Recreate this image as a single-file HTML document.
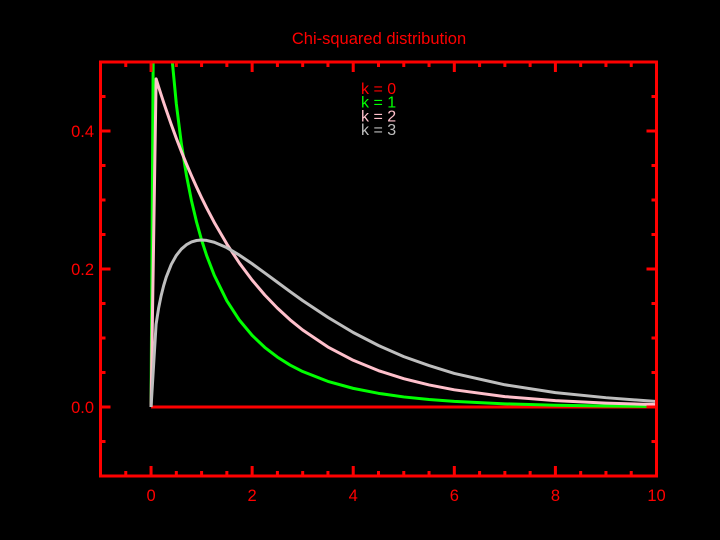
<!DOCTYPE html>
<html><head><meta charset="utf-8"><style>
html,body{margin:0;padding:0;background:#000;}
svg{display:block;font-family:"Liberation Sans",sans-serif;}
</style></head><body>
<svg id="chart" width="720" height="540" xmlns="http://www.w3.org/2000/svg">
<rect width="720" height="540" fill="#000"/>
<text x="379" y="44" fill="#ff0000" font-size="16.5" text-anchor="middle">Chi-squared distribution</text>
<defs><clipPath id="clip"><rect x="100" y="62" width="557" height="414"/></clipPath></defs>
<g id="series" clip-path="url(#clip)"></g>
<g id="axes"></g>
<g id="legend"></g>
</svg>
<script>
const xs = [0,0.1,0.15,0.2,0.25,0.3,0.4,0.5,0.6,0.7,0.8,0.9,1,1.1,1.25,1.5,1.75,2,2.25,2.5,2.75,3,3.5,4,4.5,5,5.5,6,7,8,9,10];
const k0 = [0,0,0,0,0,0,0,0,0,0,0,0,0,0,0,0,0,0,0,0,0,0,0,0,0,0,0,0,0,0,0,0];
const k1 = [0,1.2000,0.9557,0.8072,0.7041,0.6269,0.5164,0.4394,0.3815,0.3360,0.2990,0.2681,0.2420,0.2195,0.1910,0.1539,0.1257,0.1038,0.0864,0.0723,0.0608,0.0514,0.0371,0.0270,0.0198,0.0146,0.0109,0.0081,0.0046,0.0026,0.0015,0.0008];
const k2 = [0,0.4756,0.4639,0.4524,0.4412,0.4304,0.4094,0.3894,0.3704,0.3523,0.3352,0.3188,0.3033,0.2885,0.2676,0.2362,0.2084,0.1839,0.1623,0.1433,0.1264,0.1116,0.0869,0.0677,0.0527,0.0410,0.0320,0.0249,0.0151,0.0092,0.0056,0.0034];
const k3 = [0,0.1200,0.1434,0.1614,0.1760,0.1881,0.2066,0.2197,0.2289,0.2352,0.2392,0.2413,0.2420,0.2414,0.2388,0.2309,0.2200,0.2076,0.1943,0.1808,0.1673,0.1542,0.1299,0.1080,0.0891,0.0730,0.0600,0.0486,0.0322,0.0208,0.0135,0.0080];
const xTicks = [0,2,4,6,8,10];
const yTicks = [0.0,0.2,0.4];
const legendLabels = ["k = 0","k = 1","k = 2","k = 3"];

const NS="http://www.w3.org/2000/svg";
const X0=100.5,X1=656.5,XMIN=-1,XMAX=10;
const Y0=476,Y1=62,YMIN=-0.1,YMAX=0.5;
const sx=v=>X0+(v-XMIN)/(XMAX-XMIN)*(X1-X0);
const sy=v=>Y0-(v-YMIN)/(YMAX-YMIN)*(Y0-Y1);
function mk(tag,attrs,parent){const e=document.createElementNS(NS,tag);for(const k in attrs)e.setAttribute(k,attrs[k]);parent.appendChild(e);return e;}

const series=[{d:k0,c:"#ff0000",n:"k0"},{d:k1,c:"#00ff00",n:"k1"},{d:k2,c:"#ffc0cb",n:"k2"},{d:k3,c:"#bebebe",n:"k3"}];
const sg=document.getElementById('series');
series.forEach(s=>{
  const p=mk('polyline',{points:xs.map((x,i)=>sx(x).toFixed(2)+","+sy(s.d[i]).toFixed(2)).join(" "),fill:"none",stroke:s.c,"stroke-width":3,"stroke-linejoin":"round"},sg);
  
  
});

const ag=document.getElementById('axes');
const red="#ff0000";
const frame=mk('rect',{x:X0,y:Y1,width:X1-X0,height:Y0-Y1,fill:"none",stroke:red,"stroke-width":3},ag);


for(let v=-1;v<=10.001;v+=0.5){
  const major=Math.abs(v/2-Math.round(v/2))<1e-6;
  const L=major?10:5;
  mk('line',{x1:sx(v),y1:Y0,x2:sx(v),y2:Y0-L,stroke:red,"stroke-width":3},ag);
  mk('line',{x1:sx(v),y1:Y1,x2:sx(v),y2:Y1+L,stroke:red,"stroke-width":3},ag);
}
for(let i=-2;i<=10;i++){
  const v=i*0.05;const major=(i%4===0);
  const L=major?10:5;
  mk('line',{x1:X0,y1:sy(v),x2:X0+L,y2:sy(v),stroke:red,"stroke-width":3},ag);
  mk('line',{x1:X1,y1:sy(v),x2:X1-L,y2:sy(v),stroke:red,"stroke-width":3},ag);
}
xTicks.forEach(v=>{
  const t=mk('text',{x:sx(v),y:501,fill:red,"font-size":16.5,"text-anchor":"middle"},ag);
  t.textContent=String(v);
  
  
});
yTicks.forEach(v=>{
  const t=mk('text',{x:94,y:sy(v)+6,fill:red,"font-size":16.5,"text-anchor":"end"},ag);
  t.textContent=v.toFixed(1);
  
  
});
const lg=document.getElementById('legend');
legendLabels.forEach((s,i)=>{
  const t=mk('text',{x:361,y:94+i*13.7,fill:series[i].c,"font-size":16},lg);
  t.textContent=s;
  
  
});
</script>
</body></html>
